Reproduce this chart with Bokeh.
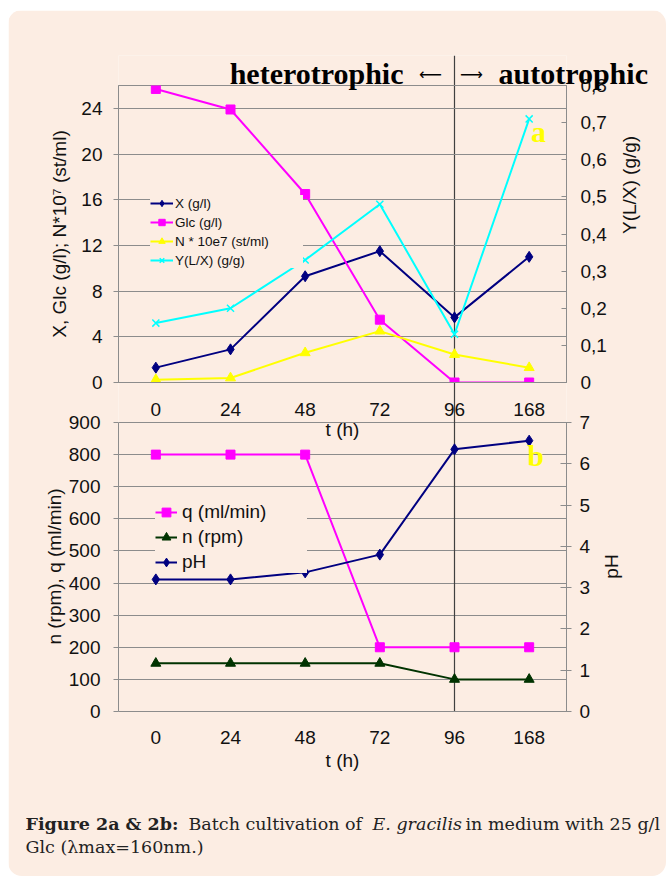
import math
from bokeh.plotting import figure
from bokeh.models import (Range1d, FactorRange, LinearAxis, FixedTicker,
                          CustomJSTickFormatter, Legend, LegendItem, Label)
from bokeh.layouts import column
from bokeh.embed import file_html
from bokeh.resources import INLINE

# ---------------- data ----------------
hours = ["0", "24", "48", "72", "96", "168"]
biomass_x = [1.3, 2.9, 9.3, 11.5, 5.7, 11.0]          # X (g/l)
glucose = [25.7, 23.9, 16.5, 5.5, 0.0, 0.0]           # Glc (g/l)
cells_n = [0.25, 0.4, 2.6, 4.5, 2.45, 1.3]            # N * 10e7 (st/ml)
yield_lx = [0.16, 0.20, 0.33, 0.48, 0.13, 0.71]       # Y(L/X) (g/g)
flow_q = [800, 800, 800, 200, 200, 200]               # q (ml/min)
stirring_n = [150, 150, 150, 150, 100, 100]           # n (rpm)
ph_values = [3.2, 3.2, 3.37, 3.8, 6.35, 6.56]         # pH
divider = "96"

top_left_ticks = [0, 4, 8, 12, 16, 20, 24]
top_left_max = 26
top_right_ticks = [0.0, 0.1, 0.2, 0.3, 0.4, 0.5, 0.6, 0.7, 0.8]
top_right_max = 0.8
bot_left_ticks = [0, 100, 200, 300, 400, 500, 600, 700, 800, 900]
bot_left_max = 900
bot_right_ticks = [0, 1, 2, 3, 4, 5, 6, 7]
bot_right_max = 7

# ---------------- style ----------------
CARD = "#fcede3"
GRID = "#8c8c8c"
TXT = "#111111"
SANS = "Liberation Sans"
SERIF = "Liberation Serif"
NAVY = "#000080"
MAGENTA = "#ff00ff"
YELLOW = "#ffff00"
CYAN = "#00ffff"
GREEN = "#003300"

# page geometry (px); canvas origin at (8, 10)
ORG_X, ORG_Y = 8, 10
PAGE_W, PAGE_BOTTOM = 666, 876
FRAME_L, FRAME_R = 118, 566
B_TOP, B_PANEL_TOP, B_BOTTOM = 55, 422, 711
T_TOP, T_BOTTOM = 85, 382
T_CANVAS_BOTTOM = 452
B_H = PAGE_BOTTOM - ORG_Y
T_H = T_CANVAS_BOTTOM - ORG_Y

q_top = bot_left_max * (B_BOTTOM - B_TOP) / (B_BOTTOM - B_PANEL_TOP)
ph_top = bot_right_max * (B_BOTTOM - B_TOP) / (B_BOTTOM - B_PANEL_TOP)


def style_axis(ax, size="19px"):
    ax.axis_line_color = GRID
    ax.major_tick_line_color = GRID
    ax.minor_tick_line_color = None
    ax.major_label_text_font = SANS
    ax.major_label_text_font_size = size
    ax.major_label_text_color = TXT
    ax.axis_label_text_font = SANS
    ax.axis_label_text_font_size = "19px"
    ax.axis_label_text_font_style = "normal"
    ax.axis_label_text_color = TXT


# ================= bottom (full page) figure =================
B = figure(x_range=FactorRange(*hours), y_range=Range1d(0, q_top),
           frame_width=FRAME_R - FRAME_L, frame_height=B_BOTTOM - B_TOP,
           min_border_left=FRAME_L - ORG_X, min_border_right=PAGE_W - FRAME_R,
           min_border_top=B_TOP - ORG_Y,
           min_border_bottom=PAGE_BOTTOM - B_BOTTOM,
           output_backend="svg", toolbar_location=None,
           background_fill_color=CARD, border_fill_color=CARD,
           outline_line_color=None)
B.extra_y_ranges = {"ph": Range1d(0, ph_top)}
B.xgrid.visible = False
B.ygrid.ticker = FixedTicker(ticks=bot_left_ticks)
B.ygrid.grid_line_color = GRID

bl = B.yaxis[0]
bl.ticker = FixedTicker(ticks=bot_left_ticks)
bl.bounds = (0, bot_left_max)
style_axis(bl)
bl.major_tick_out = 5
bl.major_tick_in = 0
bl.major_label_standoff = 13

br = LinearAxis(y_range_name="ph", ticker=FixedTicker(ticks=bot_right_ticks),
                bounds=(0, bot_right_max))
style_axis(br)
br.major_tick_out = 5
br.major_tick_in = 6
br.major_label_standoff = 8
B.add_layout(br, "right")

bx = B.xaxis[0]
style_axis(bx)
bx.major_tick_out = 0
bx.major_tick_in = 0
bx.major_label_standoff = 19
bx.axis_label = "t (h)"
bx.axis_label_standoff = 3

# divider line between heterotrophic and autotrophic phases
B.segment(x0=[divider], y0=[0], x1=[divider], y1=[q_top], line_color="#404040", line_width=1.2)

lq = B.line(hours, flow_q, line_color=MAGENTA, line_width=2)
sq = B.scatter(hours, flow_q, marker="square", size=9, color=MAGENTA)
ln = B.line(hours, stirring_n, line_color=GREEN, line_width=2)
sn = B.scatter(hours, stirring_n, marker="triangle", size=10, color=GREEN)
lp = B.line(hours, ph_values, y_range_name="ph", line_color=NAVY, line_width=2)
sp = B.scatter(hours, ph_values, y_range_name="ph", marker="diamond", size=11, color=NAVY)

legB = Legend(items=[LegendItem(label="q (ml/min)", renderers=[lq, sq]),
                     LegendItem(label="n (rpm)", renderers=[ln, sn]),
                     LegendItem(label="pH", renderers=[lp, sp])],
              location=(155 - FRAME_L, B_BOTTOM - 573), padding=0, spacing=3,
              label_height=22, glyph_height=22, glyph_width=22, label_standoff=5,
              label_width=125, label_text_font=SANS, label_text_font_size="19px",
              label_text_color=TXT, background_fill_color=CARD, background_fill_alpha=1,
              border_line_color=None, margin=0, level="underlay")
B.add_layout(legB)

B.add_layout(Label(x=(535 - FRAME_L) / (FRAME_R - FRAME_L) * len(hours),
                   y=(B_BOTTOM - 455) / (B_BOTTOM - B_PANEL_TOP) * bot_left_max,
                   text="b", text_align="center",
                   text_baseline="middle", text_font=SERIF, text_font_style="bold",
                   text_font_size="30px", text_color=YELLOW))

# ================= top figure (overlay) =================
T = figure(x_range=FactorRange(*hours), y_range=Range1d(0, top_left_max),
           frame_width=FRAME_R - FRAME_L, frame_height=T_BOTTOM - T_TOP,
           min_border_left=FRAME_L - ORG_X, min_border_right=PAGE_W - FRAME_R,
           min_border_top=T_TOP - ORG_Y, min_border_bottom=T_CANVAS_BOTTOM - T_BOTTOM,
           output_backend="svg", toolbar_location=None,
           background_fill_color=None, border_fill_color=None,
           outline_line_color=GRID)
T.extra_y_ranges = {"yld": Range1d(0, top_right_max)}
T.xgrid.visible = False
T.ygrid.ticker = FixedTicker(ticks=top_left_ticks)
T.ygrid.grid_line_color = GRID

tl = T.yaxis[0]
tl.ticker = FixedTicker(ticks=top_left_ticks)
tl.axis_label = "X, Glc (g/l); N*10\u2077 (st/ml)"
style_axis(tl)
tl.major_tick_out = 5
tl.major_tick_in = 0
tl.major_label_standoff = 11
tl.axis_label_standoff = 8

tr = LinearAxis(y_range_name="yld", ticker=FixedTicker(ticks=top_right_ticks),
                axis_label="Y(L/X) (g/g)")
tr.formatter = CustomJSTickFormatter(
    code="const v = Math.round(tick*10)/10; return v === 0 ? '0' : v.toFixed(1).replace('.', ',');")
style_axis(tr)
tr.major_tick_out = 0
tr.major_tick_in = 5
tr.major_label_standoff = 14
tr.axis_label_standoff = 20
tr.axis_label_orientation = 1.5707963
T.add_layout(tr, "right")

tx = T.xaxis[0]
style_axis(tx)
tx.major_tick_out = 0
tx.major_tick_in = 0
tx.major_label_standoff = 20
tx.axis_label = "t (h)"
tx.axis_label_standoff = 0

l1 = T.line(hours, biomass_x, line_color=NAVY, line_width=2)
s1 = T.scatter(hours, biomass_x, marker="diamond", size=11, color=NAVY)
l2 = T.line(hours, glucose, line_color=MAGENTA, line_width=2)
s2 = T.scatter(hours, glucose, marker="square", size=9, color=MAGENTA)
l3 = T.line(hours, cells_n, line_color=YELLOW, line_width=2)
s3 = T.scatter(hours, cells_n, marker="triangle", size=10, color=YELLOW)
l4 = T.line(hours, yield_lx, y_range_name="yld", line_color=CYAN, line_width=2)
s4 = T.scatter(hours, yield_lx, y_range_name="yld", marker="x", size=10,
               line_color=CYAN, line_width=1.5)

legT = Legend(items=[LegendItem(label="X (g/l)", renderers=[l1, s1]),
                     LegendItem(label="Glc (g/l)", renderers=[l2, s2]),
                     LegendItem(label="N * 10e7 (st/ml)", renderers=[l3, s3]),
                     LegendItem(label="Y(L/X) (g/g)", renderers=[l4, s4])],
              location=(150 - FRAME_L, T_BOTTOM - 268), padding=0, spacing=3,
              label_height=16, glyph_height=16, glyph_width=23, label_standoff=2,
              label_width=128, label_text_font=SANS, label_text_font_size="13.5px",
              label_text_color=TXT, background_fill_color=CARD, background_fill_alpha=1,
              border_line_color=None, margin=0, level="underlay")
T.add_layout(legT)

T.add_layout(Label(x=(538 - FRAME_L) / (FRAME_R - FRAME_L) * len(hours),
                   y=(T_BOTTOM - 131) / (T_BOTTOM - T_TOP) * top_left_max,
                   text="a", text_align="center",
                   text_baseline="middle", text_font=SERIF, text_font_style="bold",
                   text_font_size="30px", text_color=YELLOW))

# ================= text overlay (page pixel coordinates) =================
C = figure(x_range=Range1d(ORG_X, PAGE_W), y_range=Range1d(PAGE_BOTTOM, ORG_Y),
           frame_width=PAGE_W - ORG_X, frame_height=PAGE_BOTTOM - ORG_Y,
           min_border=0, min_border_left=0, min_border_right=0,
           min_border_top=0, min_border_bottom=0,
           x_axis_type=None, y_axis_type=None, title=None,
           output_backend="svg", toolbar_location=None,
           background_fill_color=None, border_fill_color=None, outline_line_color=None)
C.grid.visible = False

for fig in (B, T, C):
    fig.frame_align = False


def text(x, y, s, size="19px", font=SANS, style="normal", color=TXT,
         align="left", baseline="middle", angle=0.0):
    C.add_layout(Label(x=x, y=y, text=s, text_align=align, text_baseline=baseline,
                       text_font=font, text_font_style=style, text_font_size=size,
                       text_color=color, angle=angle))


# phase title
text(403, 73, "heterotrophic", size="30px", font=SERIF, style="bold", color="#000000", align="right")
text(430, 74, "\u27f5", size="16px", font="DejaVu Sans", color="#000000", align="center")
text(471, 74, "\u27f6", size="16px", font="DejaVu Sans", color="#000000", align="center")
text(498, 73, "autotrophic", size="30px", font=SERIF, style="bold", color="#000000")

# axis titles of the lower panel
text(54, 566, "n (rpm), q (ml/min)", align="center", angle=math.pi / 2)
text(611, 566, "pH", align="center", angle=math.pi / 2)

# caption
CAP_FONT = "DejaVu Serif"
CAP_SIZE = "17.5px"
CAP_COLOR = "#222222"
text(25, 823, "Figure 2a & 2b:", size=CAP_SIZE, font=CAP_FONT, style="bold", color=CAP_COLOR)
text(188, 823, "Batch cultivation of", size=CAP_SIZE, font=CAP_FONT, color=CAP_COLOR)
text(372, 823, "E. gracilis", size=CAP_SIZE, font=CAP_FONT, style="italic", color=CAP_COLOR)
text(465, 823, "in medium with 25 g/l", size=CAP_SIZE, font=CAP_FONT, color=CAP_COLOR)
text(25, 846, "Glc (\u03bbmax=160nm.)", size=CAP_SIZE, font=CAP_FONT, color=CAP_COLOR)

B.margin = (ORG_Y, 0, 0, ORG_X)
B.styles = {"border-radius": "14px", "overflow": "hidden"}
T.margin = (-B_H, 0, 0, ORG_X)
C.margin = (-T_H, 0, 0, ORG_X)

layout = column(B, T, C, margin=0)
open("out.html", "w").write(file_html(layout, INLINE))
